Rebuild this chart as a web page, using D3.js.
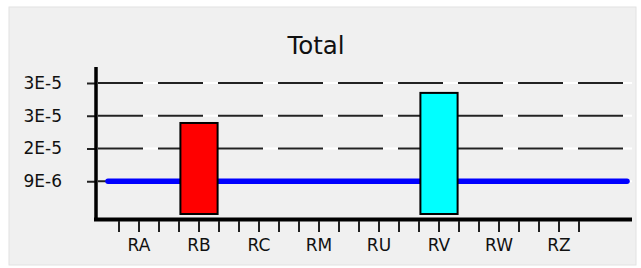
<!DOCTYPE html>
<html lang="en">
<head>
<meta charset="utf-8">
<script src="https://d3js.org/d3.v7.min.js"></script>
<title>Total</title>
<style>
  body { margin: 0; background: #fff; }
  .tick-label { font-family: "DejaVu Sans", sans-serif; font-size: 17px; fill: #111; }
</style>
</head>
<body>
<svg width="641" height="268"></svg>
<script>
// values
var categories = ["RA", "RB", "RC", "RM", "RU", "RV", "RW", "RZ"];
var totals = [0, 2.39e-5, 0, 0, 0, 3.18e-5, 0, 0];
var barColors = ["#ff0000", "#ff0000", "#ff0000", "#ff0000", "#ff0000", "#00ffff", "#ff0000", "#ff0000"];
var limitValue = 8.6e-6;
var yTickValues = [8.6e-6, 1.72e-5, 2.58e-5, 3.44e-5];
var yTickLabels = ["9E-6", "2E-5", "3E-5", "3E-5"];

var svg = d3.select("svg");

// grey panel
svg.append("rect")
  .attr("x", 9).attr("y", 7)
  .attr("width", 627).attr("height", 258)
  .attr("fill", "#f0f0f0")
  .attr("stroke", "#e2e2e2");

var plotLeft = 96, plotRight = 632, plotTop = 83, plotBottom = 214;

var x = d3.scaleBand()
  .domain(categories)
  .range([109, 589])
  .paddingInner(0.38)
  .paddingOuter(0.19);

var y = d3.scaleLinear()
  .domain([0, yTickValues[yTickValues.length - 1]])
  .range([plotBottom, plotTop]);

// title
svg.append("text")
  .attr("x", 316).attr("y", 54)
  .attr("text-anchor", "middle")
  .style("font-family", "'DejaVu Sans', sans-serif")
  .style("font-size", "24.5px")
  .attr("fill", "#111")
  .text("Total");

// grid lines: white base with black dashes
var grid = svg.append("g");
grid.selectAll(".gw").data(yTickValues).enter().append("line")
  .attr("x1", plotLeft).attr("x2", plotRight)
  .attr("y1", function(d) { return y(d); }).attr("y2", function(d) { return y(d); })
  .attr("stroke", "#fff").attr("stroke-width", 2);
grid.selectAll(".gb").data(yTickValues).enter().append("line")
  .attr("x1", plotLeft + 2).attr("x2", plotRight)
  .attr("y1", function(d) { return y(d); }).attr("y2", function(d) { return y(d); })
  .attr("stroke", "#222").attr("stroke-width", 2)
  .attr("stroke-dasharray", "45,15");

// y axis
var yAxis = svg.append("g")
  .attr("transform", "translate(" + plotLeft + ",0)")
  .call(d3.axisLeft(y).tickValues(yTickValues).tickSize(9).tickPadding(0)
    .tickFormat(function(d, i) { return yTickLabels[i]; }));
yAxis.select(".domain").remove();
yAxis.selectAll(".tick line").attr("stroke", "#222").attr("stroke-width", 2);
yAxis.selectAll(".tick text").remove();
svg.selectAll(".ylab").data(yTickValues).enter().append("text")
  .attr("class", "tick-label")
  .attr("x", 62).attr("y", function(d) { return y(d); })
  .attr("dy", "0.35em")
  .attr("text-anchor", "end")
  .text(function(d, i) { return yTickLabels[i]; });

svg.append("line")
  .attr("x1", plotLeft).attr("x2", plotLeft)
  .attr("y1", 67).attr("y2", 221)
  .attr("stroke", "#000").attr("stroke-width", 3.5);

// limit line (behind the bars)
svg.append("line")
  .attr("x1", 108).attr("x2", plotRight - 5)
  .attr("y1", y(limitValue)).attr("y2", y(limitValue))
  .attr("stroke", "#0000ff").attr("stroke-width", 5.5)
  .attr("stroke-linecap", "round");

// bars
svg.selectAll(".bar").data(categories).enter()
  .filter(function(d, i) { return totals[i] > 0; })
  .append("rect")
  .attr("x", function(d) { return x(d); })
  .attr("y", function(d) { return y(totals[categories.indexOf(d)]); })
  .attr("width", x.bandwidth())
  .attr("height", function(d) { return y(0) - y(totals[categories.indexOf(d)]); })
  .attr("fill", function(d) { return barColors[categories.indexOf(d)]; })
  .attr("stroke", "#000").attr("stroke-width", 2);

// x axis
svg.append("line")
  .attr("x1", plotLeft - 2).attr("x2", plotRight)
  .attr("y1", 219.5).attr("y2", 219.5)
  .attr("stroke", "#000").attr("stroke-width", 4);

var step = x.step();
var minorTicks = [];
categories.forEach(function(c) {
  [-1, 0, 1].forEach(function(k) { minorTicks.push(x(c) + x.bandwidth() / 2 + k * step / 3); });
});
svg.selectAll(".xtick").data(minorTicks).enter().append("line")
  .attr("x1", function(d) { return d; }).attr("x2", function(d) { return d; })
  .attr("y1", 221).attr("y2", 232)
  .attr("stroke", "#222").attr("stroke-width", 2);

svg.selectAll(".xlab").data(categories).enter().append("text")
  .attr("class", "tick-label")
  .attr("x", function(d) { return x(d) + x.bandwidth() / 2; })
  .attr("y", 251)
  .attr("text-anchor", "middle")
  .text(function(d) { return d; });
</script>
</body>
</html>
